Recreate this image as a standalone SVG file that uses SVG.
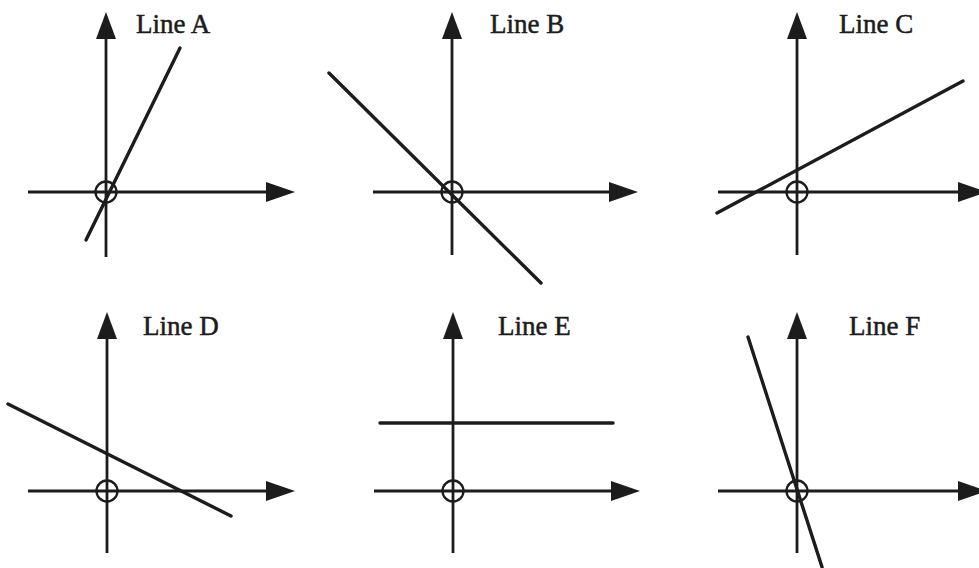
<svg xmlns="http://www.w3.org/2000/svg" width="979" height="568" viewBox="0 0 979 568">
<style>
.ax{stroke:#1c1c1c;stroke-width:2.8;fill:none}
.ln{stroke:#1c1c1c;stroke-width:3.4;fill:none;stroke-linecap:round}
.hd{fill:#1c1c1c;stroke:none}
.org{stroke:#1c1c1c;stroke-width:2.3;fill:none}
.lbl{font-family:"Liberation Serif","Times New Roman",serif;font-size:27px;fill:#1c1c1c;stroke:#1c1c1c;stroke-width:0.5;letter-spacing:0}
</style>
<rect width="979" height="568" fill="#ffffff"/>
<g id="panelA">
<line class="ax" x1="106" y1="36" x2="106" y2="257"/>
<polygon class="hd" points="106,12 96,39 116,39"/>
<line class="ax" x1="28" y1="192" x2="268" y2="192"/>
<polygon class="hd" points="295,192 266,182 266,202"/>
<circle class="org" cx="106" cy="192" r="10.5"/>
<line class="ln" x1="86" y1="240" x2="180" y2="48"/>
<text class="lbl" x="136" y="33">Line A</text>
</g>
<g id="panelB">
<line class="ax" x1="452" y1="36" x2="452" y2="255"/>
<polygon class="hd" points="452,12 442,39 462,39"/>
<line class="ax" x1="373" y1="192" x2="612" y2="192"/>
<polygon class="hd" points="638,192 609,182 609,202"/>
<circle class="org" cx="452" cy="192" r="10.5"/>
<line class="ln" x1="329" y1="73" x2="541" y2="283"/>
<text class="lbl" x="490" y="33">Line B</text>
</g>
<g id="panelC">
<line class="ax" x1="797" y1="36" x2="797" y2="255"/>
<polygon class="hd" points="797,12 787,39 807,39"/>
<line class="ax" x1="718" y1="192" x2="960" y2="192"/>
<polygon class="hd" points="987,192 958,182 958,202"/>
<circle class="org" cx="797" cy="192" r="10.5"/>
<line class="ln" x1="717" y1="213" x2="963" y2="81"/>
<text class="lbl" x="839" y="33">Line C</text>
</g>
<g id="panelD">
<line class="ax" x1="107" y1="336" x2="107" y2="553"/>
<polygon class="hd" points="107,312 97,339 117,339"/>
<line class="ax" x1="28" y1="491" x2="268" y2="491"/>
<polygon class="hd" points="295,491 266,481 266,501"/>
<circle class="org" cx="107" cy="491" r="10.5"/>
<line class="ln" x1="8" y1="404" x2="231" y2="516"/>
<text class="lbl" x="143" y="335">Line D</text>
</g>
<g id="panelE">
<line class="ax" x1="453" y1="336" x2="453" y2="553"/>
<polygon class="hd" points="453,312 443,339 463,339"/>
<line class="ax" x1="374" y1="491" x2="613" y2="491"/>
<polygon class="hd" points="640,491 611,481 611,501"/>
<circle class="org" cx="453" cy="491" r="10.5"/>
<line class="ln" x1="380" y1="423" x2="613" y2="423"/>
<text class="lbl" x="498" y="335">Line E</text>
</g>
<g id="panelF">
<line class="ax" x1="797" y1="336" x2="797" y2="553"/>
<polygon class="hd" points="797,312 787,339 807,339"/>
<line class="ax" x1="718" y1="491" x2="960" y2="491"/>
<polygon class="hd" points="987,491 958,481 958,501"/>
<circle class="org" cx="797" cy="491" r="10.5"/>
<line class="ln" x1="748" y1="337" x2="822" y2="567"/>
<text class="lbl" x="849" y="335">Line F</text>
</g>
<g id="connectors"></g>
</svg>
